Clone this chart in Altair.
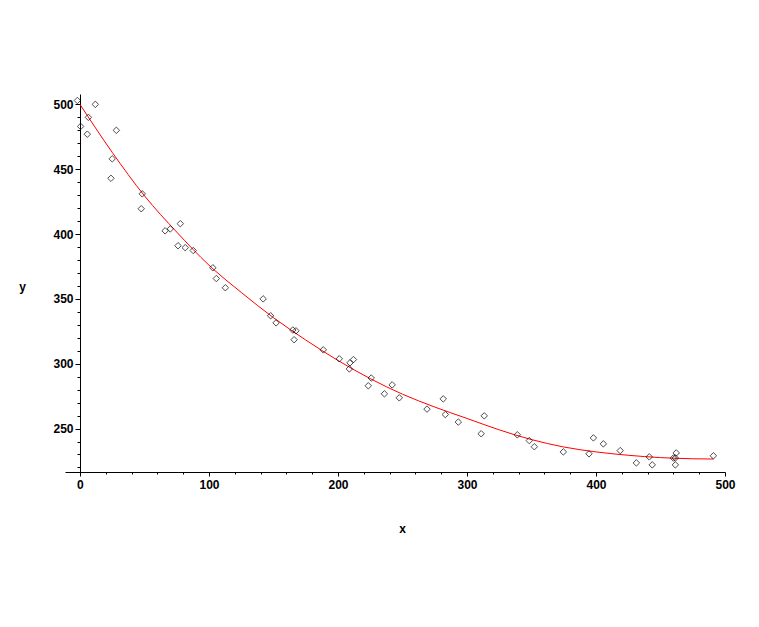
import altair as alt
import pandas as pd

# Scatter data
pts_x = [-2, 0.5, 5.7, 6.5, 11.9, 24, 25, 28.2, 47.5, 48.3, 66, 70, 76, 77.8, 81.6, 87.8,
         103, 105.7, 112.7, 142, 147.8, 152, 165, 167.4, 166, 188.6, 201, 208.8, 209.3, 212,
         223.5, 225.8, 236, 242, 247.5, 269, 281.6, 283.2, 293.3, 311, 313.4, 339, 348.3,
         352.2, 374.7, 394.6, 398, 405.7, 418.8, 431.3, 441.3, 443.6, 460, 461.5, 462.2,
         461.5, 491]
pts_y = [503, 483, 477, 490, 500, 443, 458, 480, 419.5, 431, 402.5, 404, 391, 408, 389.5, 387.3,
         374, 365.7, 358.6, 350, 337, 331.5, 326, 325.4, 318.5, 310.7, 303.8, 296, 300.7, 303.2,
         283, 289, 276.8, 283.7, 273.7, 265, 272.9, 260.8, 255, 246, 259.8, 245.2, 240.7,
         236, 232, 230.5, 242.8, 238.2, 233, 223.5, 228.2, 222, 227.3, 227.3, 231.2,
         222, 229]

# Fitted curve
curve_x = [0, 25, 50, 75, 100, 125, 150, 175, 200, 225, 250, 275, 300, 325, 350, 375, 400,
           425, 450, 475, 491]
curve_y = [500, 463, 429.5, 401.5, 376, 355, 335.5, 318.3, 302.5, 288.5, 276.5, 266.6, 257.8,
           249, 241.5, 235.8, 232, 229.4, 227.6, 226.7, 226.5]

x_ticks = list(range(0, 501, 20))
y_ticks = list(range(220, 501, 10))

pts = pd.DataFrame({"x": pts_x, "y": pts_y})
curve = pd.DataFrame({"x": curve_x, "y": curve_y})

FONT = "Liberation Sans"

xscale = alt.Scale(domain=[-11.6, 500], nice=False, zero=False)
yscale = alt.Scale(domain=[216.5, 508], nice=False, zero=False)

xaxis = alt.Axis(
    values=x_ticks,
    tickCount=200,
    labelExpr="datum.value % 100 === 0 ? datum.label : ''",
    tickSize={"condition": {"test": "datum.value % 100 === 0", "value": 4}, "value": 2},
    labelPadding=3,
    labelFlush=False,
    labelOverlap=False,
    grid=False,
    domainColor="black",
    tickColor="black",
    labelColor="black",
    labelFont=FONT,
    labelFontWeight="bold",
    labelFontSize=12,
    title="x",
    titleFont=FONT,
    titleFontWeight="bold",
    titleFontSize=12,
    titleColor="black",
    titleX=337,
    titleY=56,
    titleAlign="center",
    titleBaseline="middle",
)

yaxis = alt.Axis(
    values=y_ticks,
    tickCount=200,
    labelExpr="datum.value % 50 === 0 ? datum.label : ''",
    tickSize={"condition": {"test": "datum.value % 50 === 0", "value": 5}, "value": 3},
    labelPadding=2,
    labelFlush=False,
    labelOverlap=False,
    offset=-15,
    grid=False,
    domainColor="black",
    tickColor="black",
    labelColor="black",
    labelFont=FONT,
    labelFontWeight="bold",
    labelFontSize=12,
    title="y",
    titleFont=FONT,
    titleFontWeight="bold",
    titleFontSize=12,
    titleColor="black",
    titleAngle=0,
    titleX=-58,
    titleY=192,
    titleAlign="center",
    titleBaseline="middle",
)

points = alt.Chart(pts).mark_point(
    shape="diamond", filled=False, color="black", size=42, strokeWidth=1
).encode(
    x=alt.X("x:Q", scale=xscale, axis=xaxis),
    y=alt.Y("y:Q", scale=yscale, axis=yaxis),
)

line = alt.Chart(curve).mark_line(
    color="red", strokeWidth=1, interpolate="monotone"
).encode(
    x=alt.X("x:Q", scale=xscale),
    y=alt.Y("y:Q", scale=yscale),
)

chart = alt.layer(line, points).properties(
    width=660,
    height=378,
    autosize=alt.AutoSizeParams(type="none"),
    padding={"left": 57, "top": 86, "right": 26, "bottom": 120},
    background="white",
).configure_view(stroke=None)

chart.save("out.html", embed_options={"renderer": "svg", "actions": False})
